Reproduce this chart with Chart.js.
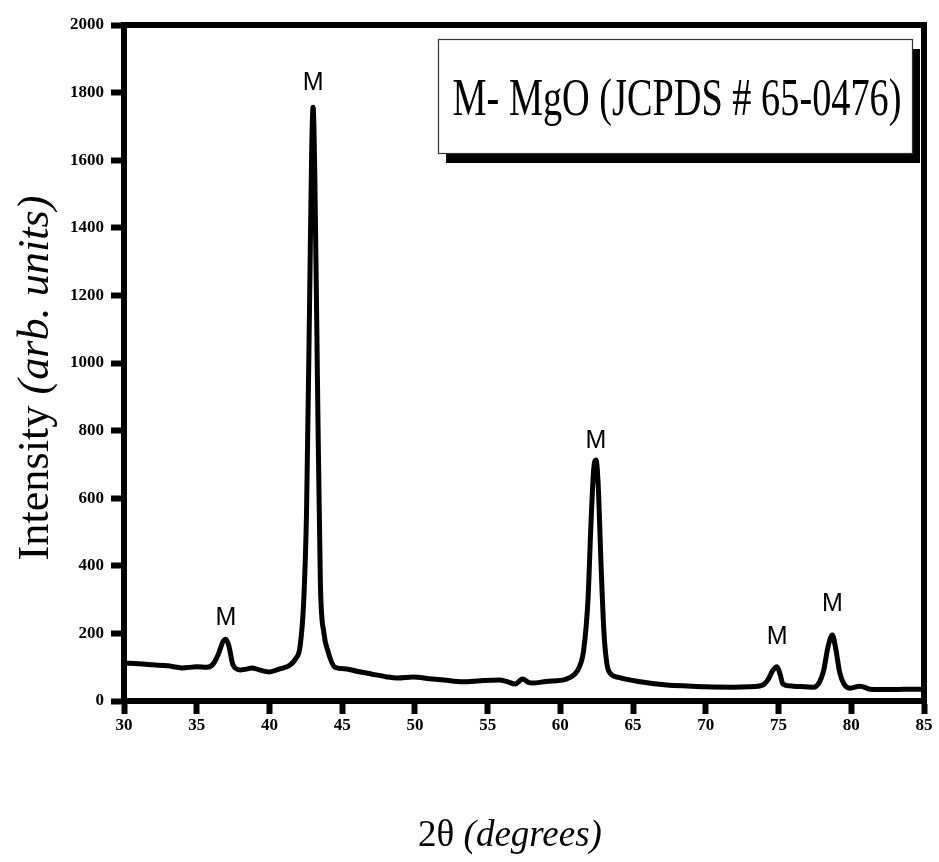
<!DOCTYPE html>
<html>
<head>
<meta charset="utf-8">
<script src="https://cdn.jsdelivr.net/npm/chart.js@4.4.0/dist/chart.umd.min.js"></script>
<style>
  html, body { margin: 0; padding: 0; background: #fff; }
  #wrap { width: 939px; height: 862px; }
</style>
</head>
<body>
<div id="wrap"><canvas id="c" width="939" height="862"></canvas></div>
<script>
// ---- data ----
const twoTheta = [30,31,32,33,34,35,35.7,36.1,36.5,36.8,37.0,37.2,37.5,38.0,38.5,38.8,39.3,40.0,40.7,41.4,41.8,42.1,42.35,42.55,42.75,42.9,43.0,43.12,43.3,43.5,43.75,44.0,44.5,45.3,46,47,48,48.8,49.9,51,52,53.3,54.5,55.8,56.3,56.9,57.4,57.8,58.1,59,60.4,61.0,61.3,61.6,61.9,62.1,62.3,62.45,62.6,62.8,63.0,63.2,63.4,64,65.5,67.3,69,70,71.9,73,73.9,74.3,74.6,74.9,75.1,75.3,76,77.4,77.8,78.1,78.4,78.7,78.95,79.2,79.5,79.9,80.6,81.3,82,83,84,85];
const intensity = [112,110,107,104,98,101,100,108,140,175,183,165,106,92,95,98,92,86,95,106,125,160,290,560,1150,1620,1757,1550,950,350,200,150,100,95,88,80,72,68,71,66,62,57,60,62,58,50,65,55,53,58,65,80,100,150,300,520,690,713,640,400,200,110,83,70,57,47,44,42,41,42,47,65,90,101,80,50,44,41,55,90,160,195,150,85,50,38,44,35,34,34,35,35];
const xTicks = [30,35,40,45,50,55,60,65,70,75,80,85];
const yTicks = [0,200,400,600,800,1000,1200,1400,1600,1800,2000];
const peakLabels = ['M','M','M','M','M'];
const peakPos = [37.0, 43.0, 62.45, 74.9, 78.7];
const peakLabelLevel = [245, 1828, 769, 189, 287];
const legendText = 'M- MgO (JCPDS # 65-0476)';
const xTitleParts = ['2θ ', '(degrees)'];
const yTitleParts = ['Intensity ', '(arb. units)'];

const points = twoTheta.map((t, i) => ({ x: t, y: intensity[i] }));

const SERIF = '"Liberation Serif", "DejaVu Serif", serif';

function drawMixed(ctx, parts, styles, size, cx, cy, targetW) {
  let widths = parts.map((p, i) => { ctx.font = styles[i] + ' ' + size + 'px ' + SERIF; return ctx.measureText(p).width; });
  let total = widths.reduce((a, b) => a + b, 0);
  const s = size * targetW / total;
  widths = parts.map((p, i) => { ctx.font = styles[i] + ' ' + s + 'px ' + SERIF; return ctx.measureText(p).width; });
  total = widths.reduce((a, b) => a + b, 0);
  let x = cx - total / 2;
  ctx.textBaseline = 'middle';
  ctx.textAlign = 'left';
  parts.forEach((p, i) => {
    ctx.font = styles[i] + ' ' + s + 'px ' + SERIF;
    ctx.fillText(p, x, cy);
    x += widths[i];
  });
}

const decor = {
  id: 'decor',
  afterDraw(chart) {
    const ctx = chart.ctx;
    const a = chart.chartArea;
    const xs = chart.scales.x, ys = chart.scales.y;
    ctx.save();
    // top and right frame
    ctx.strokeStyle = '#000';
    ctx.lineWidth = 6;
    ctx.lineCap = 'butt';
    ctx.beginPath();
    ctx.moveTo(a.left - 3, a.top);
    ctx.lineTo(a.right, a.top);
    ctx.lineTo(a.right, a.bottom + 3);
    ctx.stroke();

    // peak labels
    ctx.fillStyle = '#000';
    ctx.font = '25px "Liberation Sans", Arial, sans-serif';
    ctx.textAlign = 'center';
    ctx.textBaseline = 'middle';
    peakLabels.forEach((lab, i) => {
      ctx.fillText(lab, xs.getPixelForValue(peakPos[i]), ys.getPixelForValue(peakLabelLevel[i]));
    });

    // legend box with shadow
    const bx = 438, by = 39, bw = 474, bh = 114;
    ctx.fillStyle = '#000';
    ctx.fillRect(bx + 8, by + 10, bw, bh);
    ctx.fillStyle = '#fff';
    ctx.fillRect(bx, by, bw, bh);
    ctx.strokeStyle = '#333';
    ctx.lineWidth = 1.2;
    ctx.strokeRect(bx + 0.5, by + 0.5, bw, bh);
    ctx.save();
    ctx.fillStyle = '#000';
    ctx.translate(677, 101);
    ctx.scale(1, 1.4);
    drawMixed(ctx, [legendText], ['normal'], 40, 0, 0, 449);
    ctx.restore();

    // x title
    ctx.fillStyle = '#000';
    drawMixed(ctx, xTitleParts, ['normal', 'italic'], 32, 510, 836, 184);

    // y title
    ctx.save();
    ctx.translate(36, 378);
    ctx.rotate(-Math.PI / 2);
    drawMixed(ctx, yTitleParts, ['normal', 'italic'], 34, 0, 0, 365);
    ctx.restore();
    ctx.restore();
  }
};

new Chart(document.getElementById('c'), {
  type: 'line',
  data: {
    datasets: [{
      data: points,
      borderColor: '#000',
      borderWidth: 5,
      pointRadius: 0,
      cubicInterpolationMode: 'monotone',
      fill: false,
      borderJoinStyle: 'round',
      borderCapStyle: 'round'
    }]
  },
  options: {
    responsive: false,
    animation: false,
    devicePixelRatio: 1,
    layout: { padding: { top: 25, right: 15, left: 0, bottom: 0 } },
    plugins: { legend: { display: false }, tooltip: { enabled: false } },
    scales: {
      x: {
        type: 'linear',
        min: 30, max: 85,
        afterFit(scale) { scale.height = 161; },
        afterBuildTicks(scale) { scale.ticks = xTicks.map(v => ({ value: v })); },
        border: { display: true, color: '#000', width: 6 },
        grid: { drawOnChartArea: false, drawTicks: true, tickLength: 13, tickWidth: 6, tickColor: '#000', color: '#000' },
        ticks: { color: '#000', padding: 1, maxRotation: 0, font: { family: SERIF, size: 17, weight: 'bold' }, callback: v => String(v) },
        title: { display: false }
      },
      y: {
        type: 'linear',
        min: 0, max: 2000,
        afterFit(scale) { scale.width = 124; },
        afterBuildTicks(scale) { scale.ticks = yTicks.map(v => ({ value: v })); },
        border: { display: true, color: '#000', width: 6 },
        grid: { drawOnChartArea: false, drawTicks: true, tickLength: 13, tickWidth: 6, tickColor: '#000', color: '#000' },
        ticks: { color: '#000', padding: 7, font: { family: SERIF, size: 17, weight: 'bold' }, callback: v => String(v) },
        title: { display: false }
      }
    }
  },
  plugins: [decor]
});
</script>
</body>
</html>
